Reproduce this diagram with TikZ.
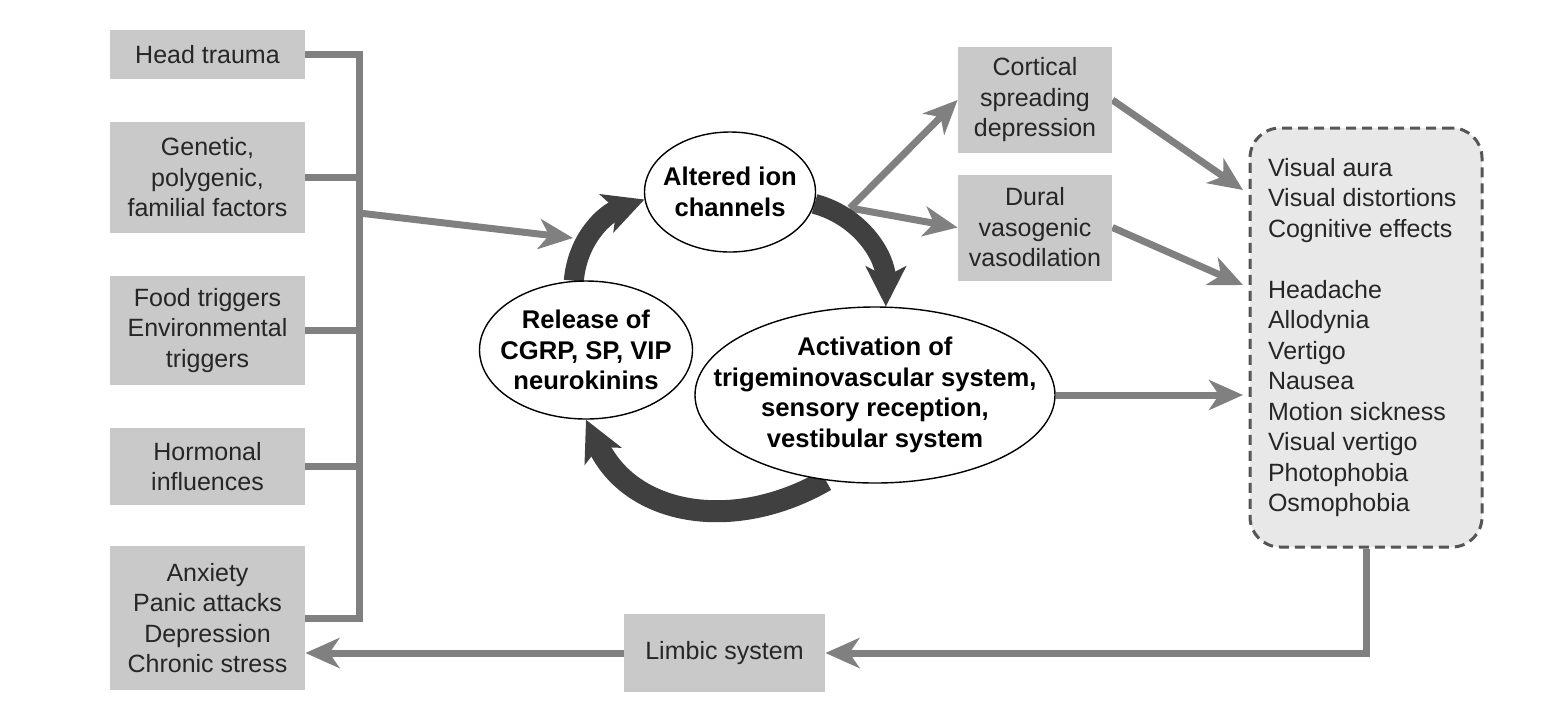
\documentclass[tikz,border=0pt]{standalone}
\usepackage{fontspec}
\setmainfont{Liberation Sans}
\usetikzlibrary{arrows.meta,shapes.geometric,backgrounds}
\definecolor{boxgray}{RGB}{201,201,201}
\definecolor{linkgray}{RGB}{128,128,128}
\definecolor{cycgray}{RGB}{64,64,64}
\definecolor{panelgray}{RGB}{232,232,232}
\definecolor{dashgray}{RGB}{85,85,85}
\begin{document}
\begin{tikzpicture}[x=0.5pt,y=-0.5pt]
			\tikzset{every node/.style={font=\fontsize{12.5}{15.25}\selectfont,text=black!85},
				factor/.style={fill=boxgray,minimum width=97.5pt,inner sep=0pt,align=center},
				effect/.style={fill=boxgray,minimum width=77pt,minimum height=53pt,inner sep=0pt,align=center},
				stage/.style={ellipse,draw,line width=0.7pt,fill=white,inner sep=0pt},
				stagetext/.style={align=center,font=\fontsize{12.8}{15.25}\selectfont\bfseries,text=black},
				panel/.style={draw=dashgray,fill=panelgray,line width=1.5pt,dash pattern=on 5pt off 3pt,rounded corners=15pt,minimum height=209.5pt,text width=98pt,inner xsep=9pt,align=flush left},
				link/.style={draw=linkgray,line width=3.5pt},
				linkarrow/.style={link,-{Stealth[length=17pt,width=15pt,inset=5pt]}},
				cyclearrow/.style={draw=cycgray,line width=10pt,-{Stealth[length=20pt,width=20pt,inset=5pt]}}}
			\useasboundingbox (0,0) rectangle (1563,709);
			\node[factor,minimum height=24.5pt] (trauma) at (207.5,54.5) {Head trauma};
			\node[factor,minimum height=55.5pt] (genetic) at (207.5,177.5) {Genetic,\\polygenic,\\familial factors};
			\node[factor,minimum height=54.5pt] (food) at (207.5,330.5) {Food triggers\\Environmental\\triggers};
			\node[factor,minimum height=38.5pt] (hormonal) at (207.5,466.5) {Hormonal\\influences};
			\node[factor,minimum height=72pt] (anxiety) at (207.5,618) {Anxiety\\Panic attacks\\Depression\\Chronic stress};
			\node[stage,minimum width=85.5pt,minimum height=60pt] (altered) at (730,192) {};
			\node[stagetext] at (altered) {Altered ion\\channels};
			\node[stage,minimum width=106.5pt,minimum height=69pt] (release) at (586,350) {};
			\node[stagetext] at (release) {Release of\\CGRP, SP, VIP\\neurokinins};
			\node[stage,minimum width=180pt,minimum height=88pt] (activation) at (875,395) {};
			\node[stagetext] at (activation) {Activation of\\trigeminovascular system,\\sensory reception,\\vestibular system};
			\node[effect] (cortical) at (1035,100) {Cortical\\spreading\\depression};
			\node[effect] (dural) at (1035,227.5) {Dural\\vasogenic\\vasodilation};
			\node[panel] (symptoms) at (1366,337.5) {Visual aura\\Visual distortions\\Cognitive effects\\[15.25pt]Headache\\Allodynia\\Vertigo\\Nausea\\Motion sickness\\Visual vertigo\\Photophobia\\Osmophobia};
			\node[factor,minimum width=100.5pt,minimum height=39pt] (limbic) at (724.5,653) {Limbic system};
			\coordinate (bus) at (359,0);
			\coordinate (merge) at (359,213);
			\coordinate (entry) at (573,238);
			\coordinate (split) at (850,208);
			\coordinate (aura in) at (1243,190);
			\coordinate (pain in) at (1243,285);
			\coordinate (sense in) at (1243,395);
			\coordinate (loop) at (1366,653);
			\begin{scope}[on background layer]
				\draw[link] (trauma.east) -- (trauma.east -| bus) -- (anxiety.east -| bus) -- (anxiety.east);
				\foreach \f in {genetic,food,hormonal}
					\draw[link] (\f.east) -- (\f.east -| bus);
				\draw[linkarrow] (merge) -- (entry);
				\draw[linkarrow] (split) -- (cortical.west);
				\draw[linkarrow] (split) -- (dural.west);
				\draw[linkarrow] (cortical.east) -- (aura in);
				\draw[linkarrow] (dural.east) -- (pain in);
				\draw[linkarrow] (activation.east) -- (sense in);
				\draw[linkarrow] (symptoms.south) -- (loop) -- (limbic.east);
				\draw[linkarrow] (limbic.west) -- (limbic.west -| anxiety.east);
				\draw[cyclearrow] (release.100) to[out=85,in=200] (altered.185);
				\draw[cyclearrow] (altered.-8) to[out=-15,in=90] (activation.83);
				\draw[cyclearrow,line width=11pt] (activation.240) to[out=210,in=-65,looseness=1.1] (release.south);
			\end{scope}
		\end{tikzpicture}
\end{document}
